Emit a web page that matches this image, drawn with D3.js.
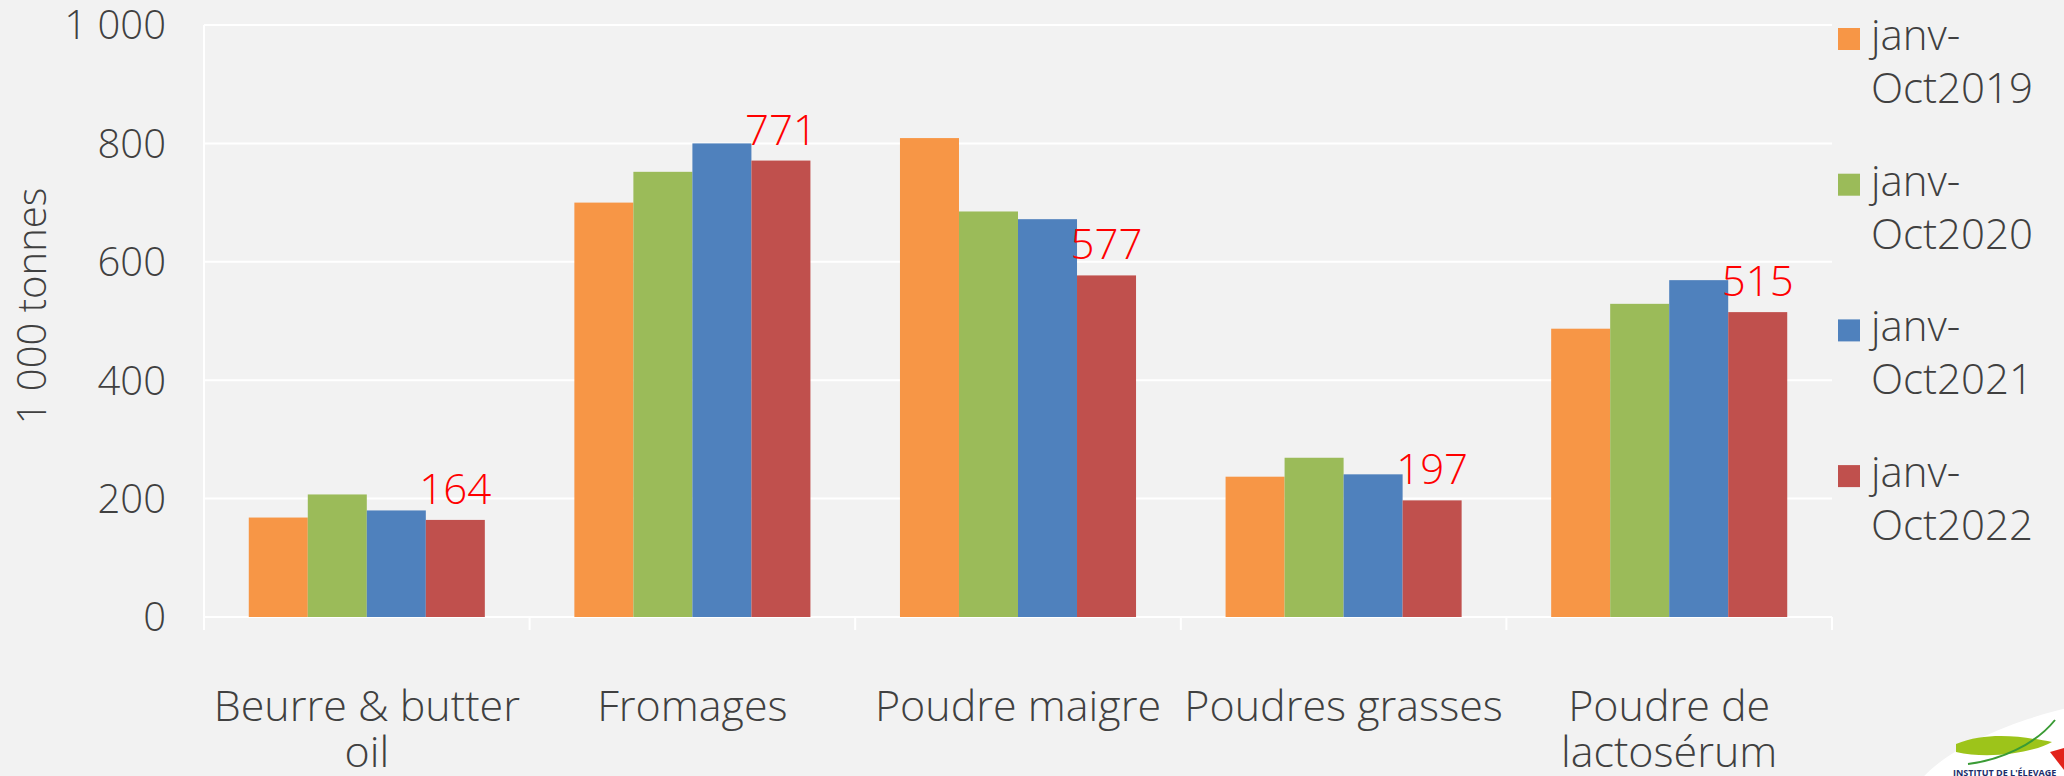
<!DOCTYPE html>
<html>
<head>
<meta charset="utf-8">
<script src="https://cdn.jsdelivr.net/npm/d3@7"></script>
<style>
  html, body { margin: 0; padding: 0; background: #f2f2f2; }
  svg text { font-family: "Century Gothic", "Open Sans", sans-serif; font-weight: 300; fill: #404040; }
</style>
</head>
<body>
<svg id="chart"></svg>
<script>
const categories = ["Beurre & butter oil", "Fromages", "Poudre maigre", "Poudres grasses", "Poudre de lactosérum"];
const series = ["janv-Oct2019", "janv-Oct2020", "janv-Oct2021", "janv-Oct2022"];
const values2019 = [168, 700, 809, 237, 487];
const values2020 = [207, 752, 685, 269, 529];
const values2021 = [180, 800, 672, 241, 569];
const values2022 = [164, 771, 577, 197, 515];
const yTicks = [0, 200, 400, 600, 800, 1000];
const colors = ["#f79646", "#9bbb59", "#4f81bd", "#c0504d"];

document.addEventListener("DOMContentLoaded", function() {
  const width = 2064;
  const height = 776;
  const left = 204, right = 1832, top = 25, bottom = 617;
  const fontSize = 40;

  const svg = d3.select("#chart")
                .attr("width", width)
                .attr("height", height);

  svg.append("rect").attr("width", width).attr("height", height).attr("fill", "#f2f2f2");

  const allValues = [values2019, values2020, values2021, values2022];
  const rows = categories.map((c, i) => ({
    cat: c,
    vals: series.map((s, j) => ({ s: s, v: allValues[j][i], j: j }))
  }));

  const x0 = d3.scaleBand().domain(categories).range([left, right]).padding(0);
  const bw = x0.bandwidth();
  const x1 = d3.scaleBand().domain(series).range([bw * 0.1375, bw * 0.8625]).padding(0);
  const y = d3.scaleLinear().domain([0, 1000]).range([bottom, top]);
  const color = d3.scaleOrdinal().domain(series).range(colors);

  // gridlines
  svg.append("g")
     .selectAll("line")
     .data(yTicks)
     .enter()
     .append("line")
     .attr("x1", left).attr("x2", right)
     .attr("y1", d => y(d)).attr("y2", d => y(d))
     .attr("stroke", "#ffffff")
     .attr("stroke-width", 2);

  // y axis line and category ticks
  svg.append("line")
     .attr("x1", left).attr("x2", left)
     .attr("y1", top).attr("y2", bottom + 13)
     .attr("stroke", "#ffffff").attr("stroke-width", 2);

  const bounds = categories.map(c => x0(c)).concat([right]);
  svg.append("g")
     .selectAll("line")
     .data(bounds)
     .enter()
     .append("line")
     .attr("x1", d => d).attr("x2", d => d)
     .attr("y1", bottom).attr("y2", bottom + 13)
     .attr("stroke", "#ffffff").attr("stroke-width", 2);

  // y tick labels
  const fmt = d => d3.format(",")(d).replace(/,/g, " ");
  svg.append("g")
     .selectAll("text")
     .data(yTicks)
     .enter()
     .append("text")
     .attr("x", 166)
     .attr("y", d => y(d))
     .attr("dy", "0.36em")
     .attr("text-anchor", "end")
     .style("font-size", fontSize + "px")
     .text(fmt);

  // y title
  svg.append("text")
     .attr("transform", "translate(46,306) rotate(-90)")
     .attr("text-anchor", "middle")
     .style("font-size", fontSize + "px")
     .text("1 000 tonnes");

  // bars
  const groups = svg.append("g")
                    .selectAll("g")
                    .data(rows)
                    .enter()
                    .append("g")
                    .attr("transform", d => `translate(${x0(d.cat)},0)`);

  groups.selectAll("rect")
        .data(d => d.vals)
        .enter()
        .append("rect")
        .attr("x", d => x1(d.s))
        .attr("width", x1.bandwidth())
        .attr("y", d => y(d.v))
        .attr("height", d => y(0) - y(d.v))
        .attr("fill", d => color(d.s));

  // data labels on last series
  groups.selectAll(".lbl")
        .data(d => d.vals.filter(v => v.j === series.length - 1))
        .enter()
        .append("text")
        .attr("class", "lbl")
        .attr("x", d => x1(d.s) + x1.bandwidth() / 2)
        .attr("y", d => y(d.v) - 16)
        .attr("text-anchor", "middle")
        .style("font-size", "42px")
        .style("fill", "#ff0000")
        .text(d => d.v);

  // category labels, wrapped to band width
  const catSize = 43;
  const catG = svg.append("g");
  categories.forEach(c => {
    const cx = x0(c) + bw / 2;
    const words = c.split(" ");
    const lines = [];
    let line = [];
    const probe = catG.append("text").style("font-size", catSize + "px");
    words.forEach(w => {
      line.push(w);
      probe.text(line.join(" "));
      if (probe.node().getComputedTextLength() > bw - 4 && line.length > 1) {
        line.pop();
        lines.push(line.join(" "));
        line = [w];
      }
    });
    lines.push(line.join(" "));
    probe.remove();
    lines.forEach((l, k) => {
      catG.append("text")
          .attr("text-anchor", "middle")
          .style("font-size", catSize + "px")
          .attr("x", cx)
          .attr("y", 721 + k * 46)
          .text(l);
    });
  });

  // legend
  const legend = svg.append("g")
                    .selectAll("g")
                    .data(series)
                    .enter()
                    .append("g")
                    .attr("transform", (d, i) => `translate(1838,${50 + i * 145.7})`);

  legend.append("rect")
        .attr("x", 0).attr("y", -22)
        .attr("width", 22).attr("height", 22)
        .attr("fill", d => color(d));

  legend.append("text")
        .attr("x", 33).attr("y", 0)
        .style("font-size", "42px")
        .text(d => d.slice(0, d.indexOf("-") + 1));

  legend.append("text")
        .attr("x", 33).attr("y", 53)
        .style("font-size", "42px")
        .text(d => d.slice(d.indexOf("-") + 1));

  // logo corner
  const logo = svg.append("g");
  logo.append("ellipse")
      .attr("cx", 2075).attr("cy", 770)
      .attr("rx", 170).attr("ry", 62)
      .attr("transform", "rotate(-14,2075,770)")
      .attr("fill", "#ffffff");
  logo.append("path")
      .attr("d", "M1956,744 C1990,730 2030,738 2052,742 C2035,752 1990,760 1956,752 Z")
      .attr("fill", "#9dc41a");
  logo.append("path")
      .attr("d", "M1968,764 C2000,760 2035,745 2055,720")
      .attr("fill", "none").attr("stroke", "#3a9b35").attr("stroke-width", 2);
  logo.append("path")
      .attr("d", "M2050,752 L2064,748 L2064,770 Z")
      .attr("fill", "#e2231a");
  logo.append("text")
      .attr("x", 1953).attr("y", 776)
      .style("font-size", "9px")
      .style("font-weight", "700")
      .style("fill", "#1d2e6b")
      .text("INSTITUT DE L'ÉLEVAGE");
});
</script>
</body>
</html>
